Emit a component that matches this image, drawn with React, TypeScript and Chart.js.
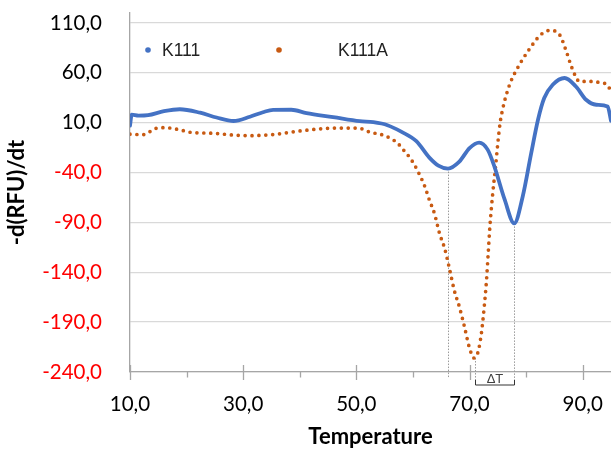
import React, { useEffect, useRef } from "react";
import { Chart, registerables } from "chart.js";

Chart.register(...registerables);

const seriesLabels = ["K111", "K111A"];
const seriesColors = ["#4472C4", "#C85A12"];

const k111Temp = [10.0, 10.3, 11.5, 13.2, 16.0, 18.8, 22.4, 25.3, 28.3, 31.2, 33.5, 35.3, 38.5, 41.2, 45.9, 50.6, 53.0, 55.5, 58.0, 60.6, 62.9, 64.5, 66.2, 68.2, 70.0, 71.7, 73.2, 74.4, 76.2, 77.9, 79.4, 80.9, 82.1, 83.2, 84.7, 86.8, 88.8, 90.6, 92.4, 94.4, 95.0];
const k111Value = [7, 18, 17, 17.5, 21.5, 23.5, 20, 15.2, 11.7, 16, 20.5, 22.9, 23, 19.6, 15.6, 11.5, 10.5, 7.5, 0.8, -8.5, -25, -33, -36, -29, -15.5, -10, -17, -34, -67, -91, -64, -20.5, 13, 34.7, 48, 54.8, 46.3, 33, 28, 26.3, 12];

const k111aTemp = [10.0, 12.3, 14.7, 16.2, 18.5, 20.9, 24.4, 28.5, 31.0, 35.0, 41.2, 46.5, 50.3, 52.4, 55.0, 56.5, 57.3, 58.2, 59.7, 60.9, 62.1, 62.9, 63.8, 64.7, 65.6, 66.5, 67.3, 68.2, 69.1, 70.0, 70.8, 71.5, 72.1, 72.6, 73.0, 73.3, 73.6, 74.1, 74.6, 75.0, 75.4, 75.9, 76.5, 77.3, 78.3, 80.3, 82.6, 84.2, 85.9, 87.2, 87.9, 88.7, 89.4, 91.7, 93.2, 94.4, 95.0];
const k111aValue = [-1.5, -2, 4.5, 5, 3.2, 0.2, -0.5, -2.5, -3, -2, 2.5, 4.6, 4.6, 0.6, -3, -7.2, -10.5, -16.5, -27, -39, -54, -67.5, -81, -101, -116, -137.5, -158, -174.5, -194.5, -216, -226, -220, -201, -174.5, -148, -121, -94, -61, -34, -10.5, 9.6, 24.7, 38, 51.4, 63, 81.5, 98.3, 102.6, 98.3, 80, 68, 57, 51.4, 51.4, 50, 48, 40];

const xTickValues = [10, 30, 50, 70, 90];
const xMinorTickValues = [20, 40, 60, 80];
const yTickValues = [-240, -190, -140, -90, -40, 10, 60, 110];

const markerTemps = [66.2, 70.9, 77.9];
const markerValues = [-36, -226, -91];
const deltaLabel = "ΔT";

const xTitle = "Temperature";
const yTitle = "-d(RFU)/dt";

const fmt = (v: number) => v.toFixed(1).replace(".", ",");

const decorPlugin = {
  id: "decor",
  beforeDatasetsDraw(chart: any) {
    const { ctx, chartArea, scales } = chart;
    const x = scales.x;
    const y = scales.y;
    const base = chartArea.bottom;
    ctx.save();
    ctx.strokeStyle = "#a6a6a6";
    ctx.lineWidth = 1.3;
    ctx.beginPath();
    xTickValues.forEach((v) => {
      const px = Math.round(x.getPixelForValue(v)) + 0.5;
      ctx.moveTo(px, base - 7);
      ctx.lineTo(px, base + 8);
    });
    xMinorTickValues.forEach((v) => {
      const px = Math.round(x.getPixelForValue(v)) + 0.5;
      ctx.moveTo(px, base);
      ctx.lineTo(px, base + 5.5);
    });
    ctx.stroke();

    ctx.strokeStyle = "#9a9a9a";
    ctx.lineWidth = 1;
    ctx.setLineDash([1.5, 1.5]);
    const ends = [base + 6, base + 13, base + 13];
    markerTemps.forEach((t, i) => {
      const px = Math.round(x.getPixelForValue(t)) + 0.5;
      ctx.beginPath();
      ctx.moveTo(px, y.getPixelForValue(markerValues[i]));
      ctx.lineTo(px, ends[i]);
      ctx.stroke();
    });
    ctx.setLineDash([]);

    const x1 = Math.round(x.getPixelForValue(markerTemps[1])) + 0.5;
    const x2 = Math.round(x.getPixelForValue(markerTemps[2])) + 0.5;
    ctx.strokeStyle = "#333";
    ctx.lineWidth = 1;
    ctx.beginPath();
    ctx.moveTo(x1, base + 8);
    ctx.lineTo(x1, base + 13);
    ctx.lineTo(x2, base + 13);
    ctx.lineTo(x2, base + 8);
    ctx.stroke();
    ctx.fillStyle = "#404040";
    ctx.font = '13px "Liberation Sans", Arial, sans-serif';
    ctx.textAlign = "center";
    ctx.textBaseline = "middle";
    ctx.fillText(deltaLabel, (x1 + x2) / 2, base + 7);
    ctx.restore();
  },
  afterDraw(chart: any) {
    const { ctx, chartArea } = chart;
    const ds = chart.data.datasets;
    const cy = chartArea.top + 37;
    const pos = [
      { dot: chartArea.left + 18, text: chartArea.left + 32 },
      { dot: chartArea.left + 149, text: chartArea.left + 208 },
    ];
    ctx.save();
    ctx.font = '17.5px "Liberation Sans", Arial, sans-serif';
    ctx.textBaseline = "middle";
    ctx.textAlign = "left";
    ds.forEach((d: any, i: number) => {
      ctx.fillStyle = d.borderColor;
      ctx.beginPath();
      ctx.arc(pos[i].dot, cy, 2.8, 0, Math.PI * 2);
      ctx.fill();
      ctx.fillStyle = "#222";
      ctx.fillText(d.label, pos[i].text, cy + 1);
    });
    ctx.restore();
  },
};

export default function App() {
  const ref = useRef<HTMLCanvasElement | null>(null);
  useEffect(() => {
    document.body.style.margin = "0";
    if (!ref.current) return;
    Chart.defaults.font.family = "Lato";
    const chart = new Chart(ref.current, {
      type: "line",
      data: {
        datasets: [
          {
            label: seriesLabels[0],
            data: k111Temp.map((t, i) => ({ x: t, y: k111Value[i] })),
            borderColor: seriesColors[0],
            backgroundColor: seriesColors[0],
            borderWidth: 3.8,
            pointRadius: 0,
            cubicInterpolationMode: "monotone",
            borderCapStyle: "round",
            borderJoinStyle: "round",
          },
          {
            label: seriesLabels[1],
            data: k111aTemp.map((t, i) => ({ x: t, y: k111aValue[i] })),
            borderColor: seriesColors[1],
            backgroundColor: seriesColors[1],
            borderWidth: 3.7,
            borderDash: [0, 6.9],
            borderCapStyle: "round",
            pointRadius: 0,
            cubicInterpolationMode: "monotone",
          },
        ],
      },
      options: {
        animation: false,
        responsive: false,
        layout: { padding: { top: 13, right: 0, left: 0, bottom: 0 } },
        plugins: { legend: { display: false }, tooltip: { enabled: false } },
        scales: {
          x: {
            type: "linear",
            min: 10,
            max: 95,
            afterBuildTicks: (s: any) => {
              s.ticks = xTickValues.map((v) => ({ value: v }));
            },
            afterFit: (s: any) => {
              s.height = 78;
              s.paddingLeft = 0;
              s.paddingRight = 0;
            },
            grid: { display: true, drawOnChartArea: false, drawTicks: false },
            border: { display: true, color: "#a6a6a6", width: 1.3 },
            ticks: {
              padding: 20,
              color: "#000",
              font: { size: 20.5, family: "Lato" },
              maxRotation: 0,
              callback: (v: any) => fmt(Number(v)),
            },
            title: {
              display: true,
              text: xTitle,
              color: "#000",
              font: { size: 22, weight: "bold", family: "Lato" },
              padding: { top: 0, bottom: 0 },
            },
          },
          y: {
            type: "linear",
            min: -240,
            max: 120,
            afterBuildTicks: (s: any) => {
              s.ticks = yTickValues.map((v) => ({ value: v }));
            },
            afterFit: (s: any) => {
              s.width = 130;
              s.paddingTop = 0;
              s.paddingBottom = 0;
            },
            grid: { color: "#d9d9d9", lineWidth: 1.3, drawTicks: false },
            border: { display: true, color: "#a6a6a6", width: 1.3 },
            ticks: {
              padding: 28,
              font: { size: 20.5, family: "Lato" },
              color: (c: any) => (c.tick && c.tick.value < 0 ? "#ff0000" : "#000000"),
              callback: (v: any) => fmt(Number(v)),
            },
            title: {
              display: true,
              text: yTitle,
              color: "#000",
              font: { size: 22, weight: "bold", family: "Lato" },
              padding: { top: 4, bottom: 0 },
            },
          },
        },
      },
      plugins: [decorPlugin],
    } as any);
    return () => chart.destroy();
  }, []);
  return (
    <div style={{ position: "absolute", left: 0, top: 0, width: 611, height: 450, background: "#fff" }}>
      <canvas ref={ref} width={611} height={450} style={{ display: "block" }} />
    </div>
  );
}
